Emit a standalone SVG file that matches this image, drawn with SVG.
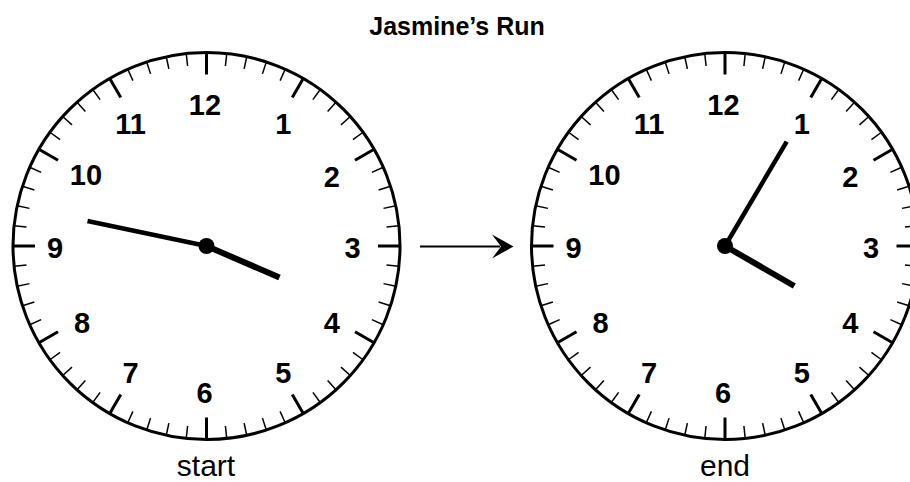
<svg xmlns="http://www.w3.org/2000/svg" xmlns:xlink="http://www.w3.org/1999/xlink" width="910" height="482" viewBox="0 0 910 482">
  <style>
    .rim { fill: #fff; stroke: #000; stroke-width: 3; }
    .minor { stroke: #000; stroke-width: 1.5; }
    .major { stroke: #000; stroke-width: 3; }
    .num { font-family: "Liberation Sans", Arial, sans-serif; font-weight: bold; font-size: 29px; text-anchor: middle; fill: #000; }
    .label { font-family: "Liberation Sans", Arial, sans-serif; font-size: 30px; text-anchor: middle; fill: #000; }
    .title { font-family: "Liberation Sans", Arial, sans-serif; font-weight: bold; font-size: 25px; text-anchor: middle; fill: #000; }
    .minute { stroke: #000; stroke-width: 4.5; stroke-linecap: butt; }
    .hour { stroke: #000; stroke-width: 6; stroke-linecap: butt; }
    .conn { stroke: #000; stroke-width: 2; fill: none; }
  </style>
  <defs>
    <line id="tk" class="minor" x1="0" y1="-193.5" x2="0" y2="-181"/>
    <line id="TK" class="major" x1="0" y1="-193.5" x2="0" y2="-171.5"/>
    <g id="quarter">
      <use xlink:href="#TK"/>
      <use xlink:href="#tk" transform="rotate(6)"/>
      <use xlink:href="#tk" transform="rotate(12)"/>
      <use xlink:href="#tk" transform="rotate(18)"/>
      <use xlink:href="#tk" transform="rotate(24)"/>
      <use xlink:href="#TK" transform="rotate(30)"/>
      <use xlink:href="#tk" transform="rotate(36)"/>
      <use xlink:href="#tk" transform="rotate(42)"/>
      <use xlink:href="#tk" transform="rotate(48)"/>
      <use xlink:href="#tk" transform="rotate(54)"/>
      <use xlink:href="#TK" transform="rotate(60)"/>
      <use xlink:href="#tk" transform="rotate(66)"/>
      <use xlink:href="#tk" transform="rotate(72)"/>
      <use xlink:href="#tk" transform="rotate(78)"/>
      <use xlink:href="#tk" transform="rotate(84)"/>
    </g>
    <g id="face">
      <circle class="rim" cx="0" cy="0" r="193.5"/>
      <use xlink:href="#quarter"/>
      <use xlink:href="#quarter" transform="rotate(90)"/>
      <use xlink:href="#quarter" transform="rotate(180)"/>
      <use xlink:href="#quarter" transform="rotate(270)"/>
    </g>
    <g id="numbers">
      <text class="num" x="205" y="115">12</text>
      <text class="num" x="283.3" y="134.3">1</text>
      <text class="num" x="331.7" y="186.7">2</text>
      <text class="num" x="352.5" y="258.3">3</text>
      <text class="num" x="331.7" y="333.3">4</text>
      <text class="num" x="283.3" y="382.7">5</text>
      <text class="num" x="204.5" y="402.7">6</text>
      <text class="num" x="130.5" y="382.7">7</text>
      <text class="num" x="82" y="333.3">8</text>
      <text class="num" x="55" y="258.3">9</text>
      <text class="num" x="86" y="185">10</text>
      <text class="num" x="130.5" y="134.3">11</text>
    </g>
  </defs>

  <text class="title" x="457" y="35">Jasmine’s Run</text>

  <g id="clock-start">
    <use xlink:href="#face" transform="translate(206.5,246)"/>
    <use xlink:href="#numbers"/>
    <line class="minute" x1="206.5" y1="246" x2="87.5" y2="221"/>
    <line class="hour" x1="206.5" y1="246" x2="279.5" y2="277.5"/>
    <circle cx="206.5" cy="246" r="8"/>
    <text class="label" x="206" y="476">start</text>
  </g>

  <g id="clock-end">
    <use xlink:href="#face" transform="translate(725,246)"/>
    <use xlink:href="#numbers" transform="translate(518.5,0)"/>
    <line class="minute" x1="725" y1="246" x2="786.7" y2="141.7"/>
    <line class="hour" x1="725" y1="246" x2="794.3" y2="286"/>
    <circle cx="725" cy="246" r="8"/>
    <text class="label" x="725" y="476">end</text>
  </g>

  <g id="connectors">
    <line class="conn" x1="420" y1="246.5" x2="500" y2="246.5"/>
    <path d="M513.5,246.5 L492,234.5 L501,246.5 L492,258.5 Z" fill="#000"/>
  </g>
</svg>
